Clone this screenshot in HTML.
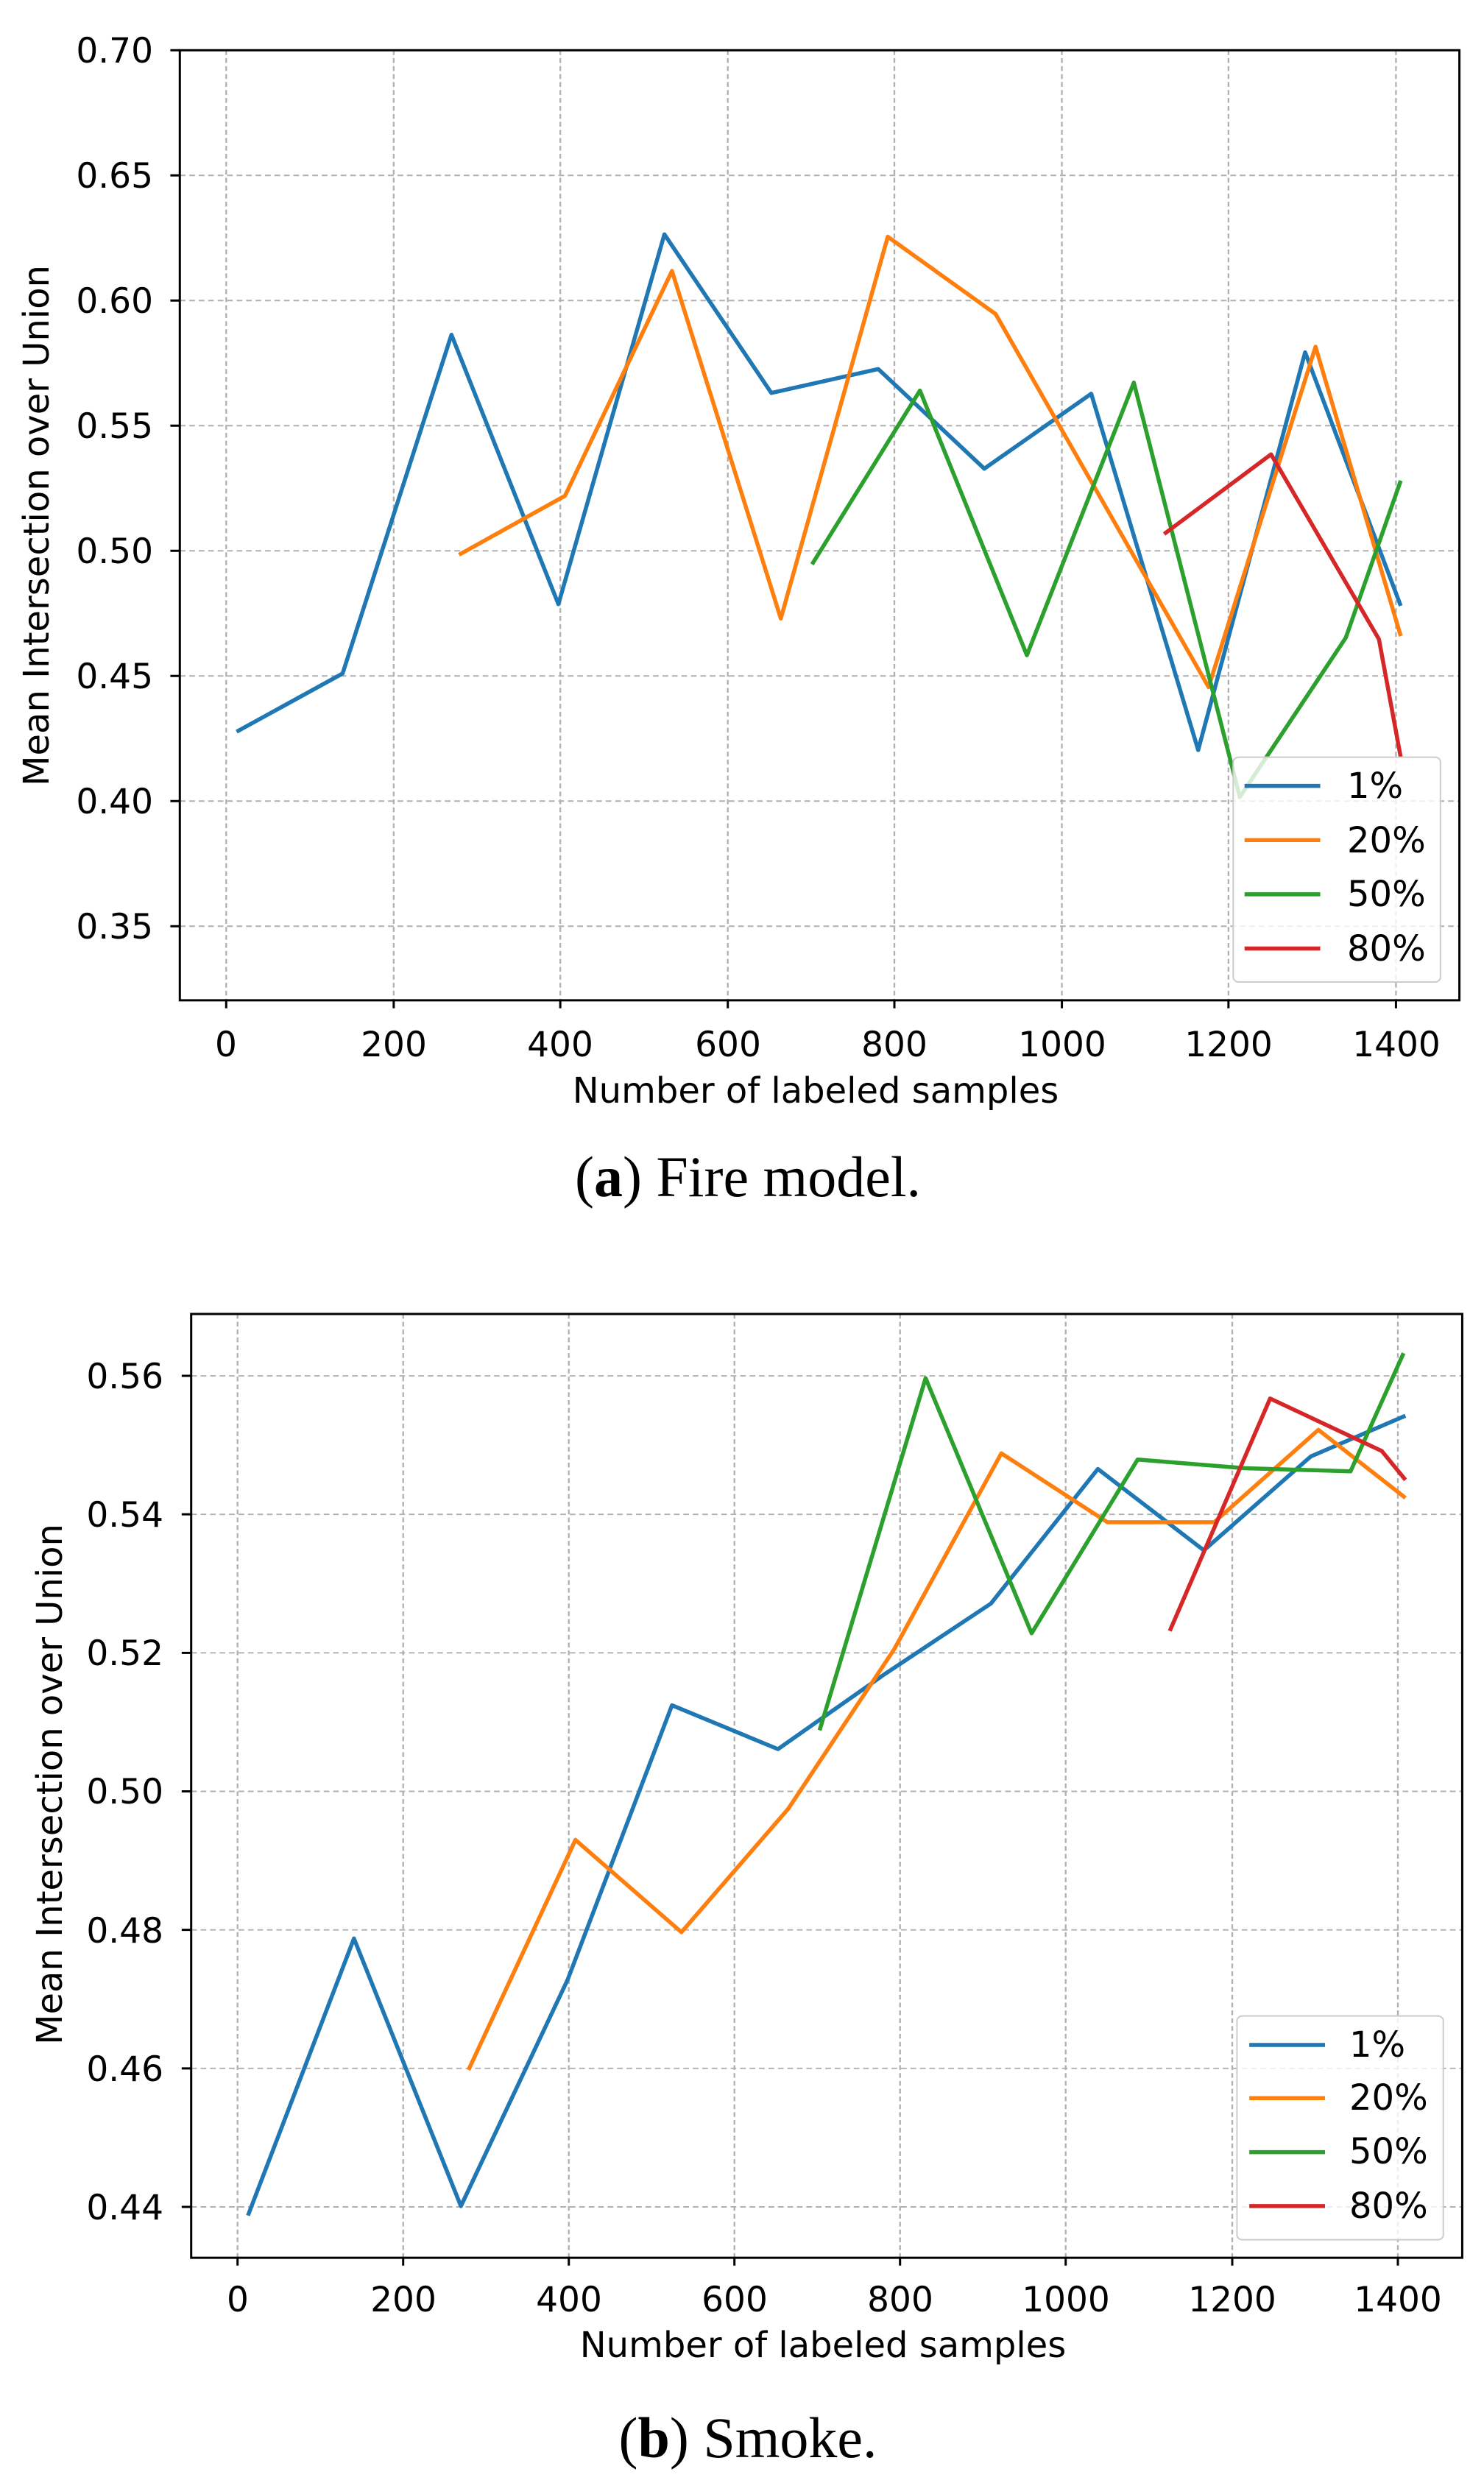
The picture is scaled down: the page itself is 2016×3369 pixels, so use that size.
<!DOCTYPE html>
<html><head><meta charset="utf-8"><style>
html,body{margin:0;padding:0;background:#fff;overflow:hidden;}
svg{display:block;}
text{font-family:"DejaVu Sans","Liberation Sans",sans-serif;fill:#000;}
.cap{font-family:"Liberation Serif",serif;}
.g{stroke:#b0b0b0;stroke-width:1.8;stroke-dasharray:6,4;fill:none;vector-effect:non-scaling-stroke;}
.s{fill:none;stroke-width:5.5;stroke-linejoin:round;vector-effect:non-scaling-stroke;}
.k{vector-effect:non-scaling-stroke;}
</style></head><body>
<svg width="2016" height="3369" viewBox="0 0 2016 3369">
<svg x="0" y="0" width="2016" height="1700" viewBox="0 0 1568 1570" preserveAspectRatio="none">
<g class="g">
<path d="M239 63V1255M416 63V1255M592 63V1255M769 63V1255M945 63V1255M1122 63V1255M1298 63V1255M1475 63V1255"/>
<path d="M190 63H1542M190 220H1542M190 377H1542M190 534H1542M190 691H1542M190 848H1542M190 1005H1542M190 1162H1542"/>
</g>
<polyline class="s" stroke="#1f77b4" points="250,918 362,845 477,420 590,758 702,294 815,493 928,463 1040,588 1153,494 1266,941 1379,442 1480,760"/>
<polyline class="s" stroke="#ff7f0e" points="485,696 597,622 710,340 825,776 938,297 1052,394 1277,862 1390,435 1480,798"/>
<polyline class="s" stroke="#2ca02c" points="858,708 972,490 1085,822 1198,480 1310,1000 1422,800 1480,603"/>
<polyline class="s" stroke="#d62728" points="1230,670 1343,570 1457,802 1480,950"/>
<rect class="k" x="190" y="63" width="1352" height="1192" fill="none" stroke="#000" stroke-width="3"/>
<g stroke="#000" stroke-width="3"><path class="k" d="M239 1255v10M416 1255v10M592 1255v10M769 1255v10M945 1255v10M1122 1255v10M1298 1255v10M1475 1255v10M190 63h-10M190 220h-10M190 377h-10M190 534h-10M190 691h-10M190 848h-10M190 1005h-10M190 1162h-10"/></g>
<rect class="k" x="1303" y="950" width="219" height="282" rx="6" fill="#fff" fill-opacity="0.8" stroke="#ccc" stroke-width="2"/>
<g stroke-width="5.5"><path class="k" d="M1315 986h80" stroke="#1f77b4"/><path class="k" d="M1315 1054h80" stroke="#ff7f0e"/><path class="k" d="M1315 1122h80" stroke="#2ca02c"/><path class="k" d="M1315 1190h80" stroke="#d62728"/></g>
</svg>
<g font-size="47" text-anchor="end">
<text x="208" y="85">0.70</text><text x="208" y="255">0.65</text><text x="208" y="425">0.60</text><text x="208" y="595">0.55</text><text x="208" y="765">0.50</text><text x="208" y="935">0.45</text><text x="208" y="1105">0.40</text><text x="208" y="1275">0.35</text>
</g>
<g font-size="47" text-anchor="middle">
<text x="307" y="1435">0</text><text x="535" y="1435">200</text><text x="761" y="1435">400</text><text x="989" y="1435">600</text><text x="1215" y="1435">800</text><text x="1443" y="1435">1000</text><text x="1669" y="1435">1200</text><text x="1897" y="1435">1400</text>
<text x="1108" y="1498" font-size="48">Number of labeled samples</text>
<text transform="translate(66,714) rotate(-90)" font-size="48">Mean Intersection over Union</text>
</g>
<g font-size="48"><text x="1830" y="1084">1%</text><text x="1830" y="1158">20%</text><text x="1830" y="1231">50%</text><text x="1830" y="1305">80%</text></g>
<text class="cap" x="1016" y="1625" font-size="78" text-anchor="middle">(<tspan font-weight="bold">a</tspan>) Fire model.</text>

<svg x="0" y="1700" width="2016" height="1669" viewBox="0 0 1568 1570" preserveAspectRatio="none">
<g class="g">
<path d="M251 80V1286M426 80V1286M601 80V1286M776 80V1286M951 80V1286M1126 80V1286M1302 80V1286M1477 80V1286"/>
<path d="M202 159H1545M202 336H1545M202 513H1545M202 690H1545M202 867H1545M202 1044H1545M202 1221H1545"/>
</g>
<polyline class="s" stroke="#1f77b4" points="262,1232 374,878 487,1220 600,930 710,580 822,636 935,540 1047,450 1160,278 1272,382 1385,262 1485,210"/>
<polyline class="s" stroke="#ff7f0e" points="495,1046 608,752 720,870 833,712 945,508 1058,258 1170,346 1283,346 1393,228 1485,315"/>
<polyline class="s" stroke="#2ca02c" points="866,612 978,162 1090,488 1202,266 1315,277 1427,281 1483,130"/>
<polyline class="s" stroke="#d62728" points="1236,485 1342,188 1460,255 1485,292"/>
<rect class="k" x="202" y="80" width="1343" height="1206" fill="none" stroke="#000" stroke-width="3"/>
<g stroke="#000" stroke-width="3"><path class="k" d="M251 1286v10M426 1286v10M601 1286v10M776 1286v10M951 1286v10M1126 1286v10M1302 1286v10M1477 1286v10M202 159h-10M202 336h-10M202 513h-10M202 690h-10M202 867h-10M202 1044h-10M202 1221h-10"/></g>
<rect class="k" x="1307" y="977" width="218" height="286" rx="6" fill="#fff" fill-opacity="0.8" stroke="#ccc" stroke-width="2"/>
<g stroke-width="5.5"><path class="k" d="M1320 1014h80" stroke="#1f77b4"/><path class="k" d="M1320 1082h80" stroke="#ff7f0e"/><path class="k" d="M1320 1151h80" stroke="#2ca02c"/><path class="k" d="M1320 1220h80" stroke="#d62728"/></g>
</svg>
<g font-size="47" text-anchor="end">
<text x="222" y="1886">0.56</text><text x="222" y="2074">0.54</text><text x="222" y="2262">0.52</text><text x="222" y="2450">0.50</text><text x="222" y="2639">0.48</text><text x="222" y="2827">0.46</text><text x="222" y="3015">0.44</text>
</g>
<g font-size="47" text-anchor="middle">
<text x="323" y="3140">0</text><text x="548" y="3140">200</text><text x="773" y="3140">400</text><text x="998" y="3140">600</text><text x="1223" y="3140">800</text><text x="1448" y="3140">1000</text><text x="1674" y="3140">1200</text><text x="1899" y="3140">1400</text>
<text x="1118" y="3202" font-size="48">Number of labeled samples</text>
<text transform="translate(84,2424) rotate(-90)" font-size="48">Mean Intersection over Union</text>
</g>
<g font-size="48"><text x="1833" y="2794">1%</text><text x="1833" y="2866">20%</text><text x="1833" y="2939">50%</text><text x="1833" y="3013">80%</text></g>
<text class="cap" x="1016" y="3338" font-size="78" text-anchor="middle">(<tspan font-weight="bold">b</tspan>) Smoke.</text>
</svg>
</body></html>
